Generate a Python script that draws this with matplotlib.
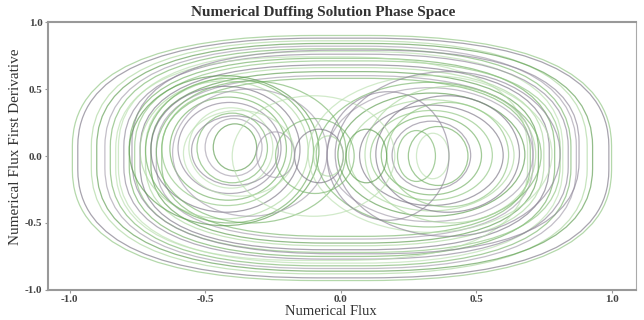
import matplotlib
matplotlib.use("Agg")
import matplotlib.pyplot as plt
from matplotlib.patches import FancyBboxPatch, Ellipse

# loops: flux extent (x_lo..x_hi), derivative extent (v_lo..v_hi)
outer_x_lo = [-0.99, -0.97, -0.92, -0.90, -0.87, -0.85, -0.82, -0.80, -0.78, -0.76, -0.74, -0.72, -0.70, -0.68, -0.66, -0.83, -0.77]
outer_x_hi = [1.00, 0.99, 0.91, 0.93, 0.87, 0.85, 0.82, 0.84, 0.79, 0.81, 0.77, 0.75, 0.73, 0.71, 0.70, 0.69, 0.88]
outer_v_hi = [0.90, 0.88, 0.86, 0.84, 0.82, 0.80, 0.78, 0.76, 0.73, 0.71, 0.68, 0.66, 0.63, 0.60, 0.58, 0.74, 0.79]
outer_v_lo = [-0.93, -0.91, -0.88, -0.86, -0.84, -0.82, -0.80, -0.77, -0.75, -0.72, -0.70, -0.67, -0.65, -0.62, -0.60, -0.78, -0.73]

left_x_lo = [-0.47, -0.50, -0.53, -0.56, -0.60, -0.63, -0.66, -0.70, -0.74, -0.78, -0.62, -0.68, -0.58, -0.55, -0.72]
left_x_hi = [-0.31, -0.29, -0.27, -0.25, -0.22, -0.20, -0.18, -0.15, -0.12, -0.08, -0.05, 0.02, -0.17, -0.23, -0.10]
left_v_hi = [0.24, 0.28, 0.32, 0.36, 0.40, 0.44, 0.48, 0.52, 0.56, 0.60, 0.50, 0.56, 0.34, 0.30, 0.58]
left_v_lo = [-0.11, -0.15, -0.20, -0.24, -0.28, -0.33, -0.37, -0.42, -0.47, -0.52, -0.45, -0.50, -0.30, -0.22, -0.50]

right_x_lo = [0.21, 0.28, 0.19, 0.15, 0.11, 0.07, 0.03, -0.01, -0.05, -0.09, -0.12, -0.02, 0.25, 0.17, 0.13, 0.09]
right_x_hi = [0.35, 0.40, 0.48, 0.52, 0.56, 0.60, 0.64, 0.68, 0.71, 0.74, 0.78, 0.81, 0.47, 0.62, 0.66, 0.72]
right_v_hi = [0.19, 0.17, 0.26, 0.30, 0.34, 0.38, 0.42, 0.47, 0.51, 0.55, 0.60, 0.63, 0.22, 0.40, 0.45, 0.52]
right_v_lo = [-0.19, -0.17, -0.25, -0.29, -0.33, -0.37, -0.41, -0.45, -0.49, -0.53, -0.57, -0.60, -0.22, -0.38, -0.42, -0.50]

mid_x_lo = [-0.17, -0.10, 0.02, -0.31, -0.24, -0.40, -0.05]
mid_x_hi = [0.01, 0.01, 0.17, -0.17, 0.05, 0.20, 0.40]
mid_v_hi = [0.20, 0.15, 0.20, 0.18, 0.28, 0.45, 0.48]
mid_v_lo = [-0.20, -0.15, -0.20, -0.16, -0.28, -0.45, -0.48]

xticks = [-1.0, -0.5, 0.0, 0.5, 1.0]
yticks = [-1.0, -0.5, 0.0, 0.5, 1.0]

colors = ['#8cc47e', '#7a7484', '#a9d69c', '#5a9a4c', '#a39cab', '#78b56a', '#b9dfae', '#8d8597', '#6fae60']

plt.rcParams['font.family'] = ['Liberation Serif', 'DejaVu Serif']

fig = plt.figure(figsize=(6.44, 3.2), dpi=100)
ax = fig.add_axes([0.0745, 0.094, 0.913, 0.837])


def draw_boxes(x_lo, x_hi, v_lo, v_hi, start):
    # big two-well loops: flattened tops, like the Duffing orbits
    for i in range(len(x_lo)):
        w = x_hi[i] - x_lo[i]
        h = v_hi[i] - v_lo[i]
        p = FancyBboxPatch((x_lo[i], v_lo[i]), w, h,
                           boxstyle="round,pad=0,rounding_size=%f" % (0.9 * w / 2),
                           mutation_aspect=h / w,
                           fill=False, lw=0.9, alpha=0.65,
                           ec=colors[(start + i) % len(colors)])
        ax.add_patch(p)


def draw_ellipses(x_lo, x_hi, v_lo, v_hi, start):
    for i in range(len(x_lo)):
        cx = (x_lo[i] + x_hi[i]) / 2
        cy = (v_lo[i] + v_hi[i]) / 2
        p = Ellipse((cx, cy), x_hi[i] - x_lo[i], v_hi[i] - v_lo[i],
                    fill=False, lw=0.9, alpha=0.65,
                    ec=colors[(start + i) % len(colors)])
        ax.add_patch(p)


draw_boxes(outer_x_lo, outer_x_hi, outer_v_lo, outer_v_hi, 0)
draw_ellipses(left_x_lo, left_x_hi, left_v_lo, left_v_hi, 3)
draw_ellipses(right_x_lo, right_x_hi, right_v_lo, right_v_hi, 5)
draw_ellipses(mid_x_lo, mid_x_hi, mid_v_lo, mid_v_hi, 1)

ax.set_xlim(-1.08, 1.09)
ax.set_ylim(-1.0, 1.0)
ax.set_xticks(xticks)
ax.set_yticks(yticks)
ax.set_xticklabels(['%.1f' % t for t in xticks], fontweight='bold', fontsize=8, color='#444444')
ax.set_yticklabels(['%.1f' % t for t in yticks], fontweight='bold', fontsize=8, color='#444444')
ax.tick_params(length=2, width=0.8, color='#999999', pad=2)

for s in ['left', 'bottom', 'top']:
    ax.spines[s].set_color('#999999')
    ax.spines[s].set_linewidth(1.5)
ax.spines['right'].set_color('#aaaaaa')
ax.spines['right'].set_linewidth(0.8)

fig.text(0.502, 0.962, "Numerical Duffing Solution Phase Space", fontweight='bold', fontsize=11,
         color='#333333', ha='center', va='center')
ax.set_xlabel("Numerical Flux", fontsize=10.5, labelpad=0, color='#333333')
ax.xaxis.set_label_coords(0.481, -0.055)
ax.set_ylabel("Numerical Flux First Derivative", fontsize=11, color='#333333')
ax.yaxis.set_label_coords(-0.044, 0.534)

fig.savefig('out.png', dpi=100)
